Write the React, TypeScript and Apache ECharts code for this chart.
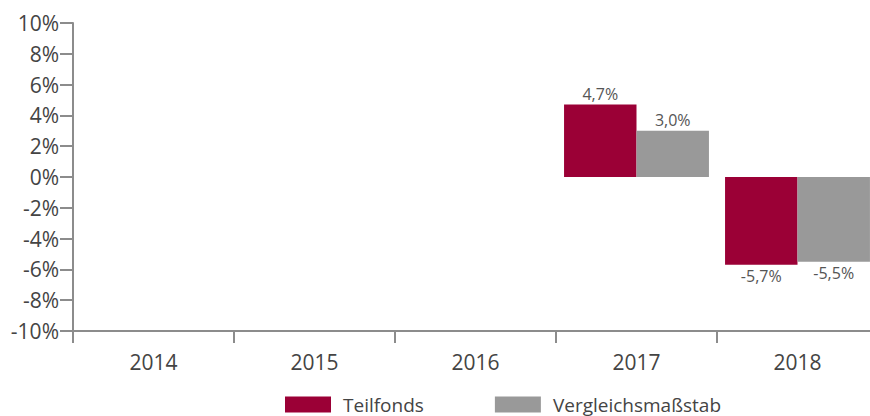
import React, { useEffect, useRef } from "react";
import * as echarts from "echarts";

const categories = ["2014", "2015", "2016", "2017", "2018"];
const teilfonds: (number | null)[] = [null, null, null, 4.7, -5.7];
const vergleich: (number | null)[] = [null, null, null, 3.0, -5.5];
const seriesNames = ["Teilfonds", "Vergleichsmaßstab"];
const colors = ["#9b0036", "#999999"];

const FONT = "Open Sans";
const AXIS = "#8c8c8c";
const TEXT = "#444444";

function fmt(v: number) {
  return v.toFixed(1).replace(".", ",") + "%";
}

function toData(arr: (number | null)[]) {
  return arr.map((v) =>
    v === null
      ? "-"
      : { value: v, label: { position: v >= 0 ? "top" : "bottom" } }
  );
}

export default function App() {
  const ref = useRef<HTMLDivElement>(null);
  useEffect(() => {
    if (!ref.current) return;
    const chart = echarts.init(ref.current, undefined, { renderer: "svg" });
    const label = {
      show: true,
      fontFamily: FONT,
      fontSize: 16,
      color: "#555555",
      distance: 3,
      formatter: (p: any) => fmt(p.value as number),
    };
    chart.setOption({
      animation: false,
      grid: { left: 73, right: 0, top: 23, bottom: 85 },
      legend: {
        left: 285,
        top: 395,
        icon: "rect",
        itemWidth: 46,
        itemHeight: 16,
        itemGap: 71,
        padding: 0,
        textStyle: {
          fontFamily: FONT,
          fontSize: 19,
          lineHeight: 16,
          color: TEXT,
          padding: [0, 0, 0, 7],
        },
        data: seriesNames,
      },
      xAxis: {
        type: "category",
        data: categories,
        axisLine: { onZero: false, lineStyle: { color: AXIS, width: 2 } },
        axisTick: { show: true, length: 12, lineStyle: { color: AXIS, width: 2 } },
        axisLabel: { fontFamily: FONT, fontSize: 21, color: TEXT, margin: 20 },
        splitLine: { show: false },
      },
      yAxis: {
        type: "value",
        min: -10,
        max: 10,
        interval: 2,
        axisLine: { show: true, lineStyle: { color: AXIS, width: 2 } },
        axisTick: { show: true, length: 13, lineStyle: { color: AXIS, width: 2 } },
        axisLabel: {
          fontFamily: FONT,
          fontSize: 21,
          color: TEXT,
          margin: 14,
          formatter: (v: number) => `${v}%`,
        },
        splitLine: { show: false },
      },
      series: [
        {
          name: seriesNames[0],
          type: "bar",
          data: toData(teilfonds),
          itemStyle: { color: colors[0] },
          barGap: "0%",
          barCategoryGap: "10%",
          label,
        },
        {
          name: seriesNames[1],
          type: "bar",
          data: toData(vergleich),
          itemStyle: { color: colors[1] },
          barGap: "0%",
          barCategoryGap: "10%",
          label,
        },
      ],
    });
    return () => chart.dispose();
  }, []);
  return (
    <div
      style={{
        position: "fixed",
        left: 0,
        top: 0,
        width: 870,
        height: 416,
        overflow: "hidden",
        background: "#fff",
      }}
    >
      <div ref={ref} style={{ width: 878, height: 416 }} />
    </div>
  );
}
